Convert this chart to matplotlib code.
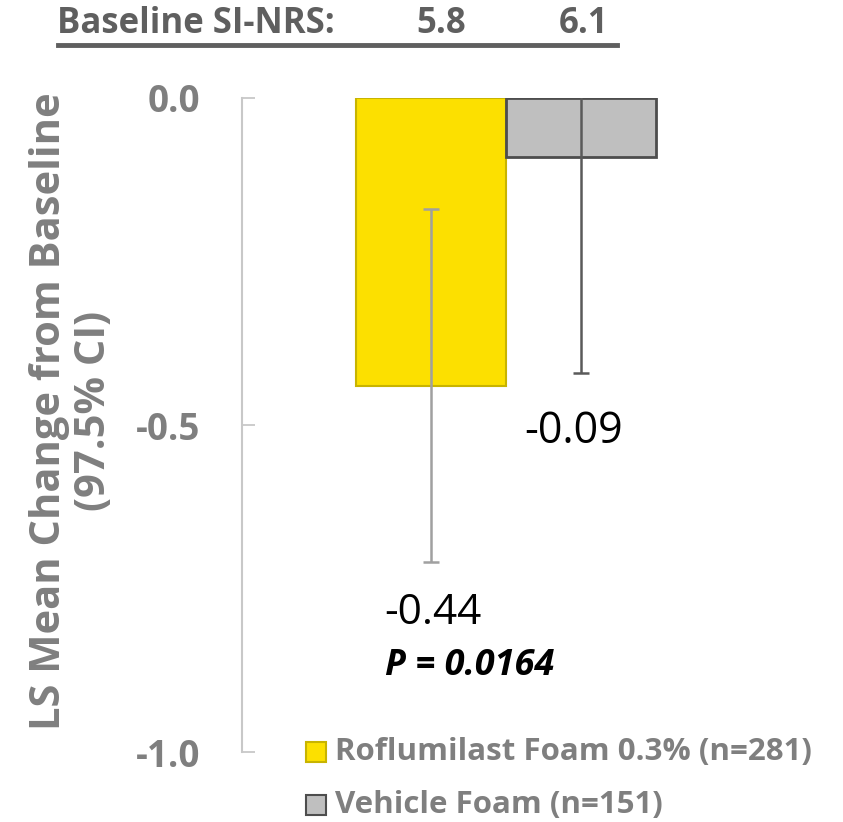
import matplotlib.pyplot as plt
from matplotlib.patches import Rectangle

# LS mean change from baseline, with 97.5% CI
groups = ["Roflumilast Foam 0.3% (n=281)", "Vehicle Foam (n=151)"]
means = [-0.44, -0.09]
ci_low = [-0.71, -0.42]
ci_high = [-0.17, 0.24]
baselines = ["5.8", "6.1"]
value_labels = ["-0.44", "-0.09"]
p_value = "0.0164"

face_colors = ["#fce000", "#bfbfbf"]
edge_colors = ["#c8b400", "#4d4d4d"]
err_colors = ["#a0a0a0", "#5a5a5a"]
GRAY = "#7f7f7f"
DARK = "#5f5f5f"
FONT = "Open Sans"

W, H = 843, 822
fig = plt.figure(figsize=(W / 100, H / 100), dpi=100)
ax = fig.add_axes([242 / W, 1 - 752 / H, (808 - 242) / W, (752 - 98) / H])

xs = [0, 1]
for i in range(2):
    ax.bar(xs[i], means[i], width=1.0, align="edge", color=face_colors[i],
           edgecolor=edge_colors[i], linewidth=1.5 if i == 0 else 2.0, zorder=2)
    lo = means[i] - ci_low[i]
    hi = ci_high[i] - means[i]
    ax.errorbar(xs[i] + 0.5, means[i], yerr=[[lo], [hi]], fmt="none",
                ecolor=err_colors[i], elinewidth=1.8, capsize=6, capthick=1.8, zorder=3)

ax.set_xlim(-0.76, 3.013)
ax.set_ylim(-1.0, 0.0)
ax.set_yticks([0.0, -0.5, -1.0])
ax.set_yticklabels(["0.0", "-0.5", "-1.0"])
ax.tick_params(axis="y", direction="in", length=9, width=1.3, color="#c8c8c8",
               labelsize=26.5, labelcolor=GRAY, pad=30)
for lab in ax.get_yticklabels():
    lab.set_fontfamily(FONT)
    lab.set_fontweight("bold")
ax.set_xticks([])
for s in ["top", "right", "bottom"]:
    ax.spines[s].set_visible(False)
ax.spines["left"].set_color("#c8c8c8")
ax.spines["left"].set_linewidth(1.5)

# value labels and p-value
ax.text(0.51, -0.787, value_labels[0], ha="center", va="center", fontsize=30.5,
        family=FONT, color="black")
ax.text(1.45, -0.51, value_labels[1], ha="center", va="center", fontsize=31,
        family=FONT, color="black")
ax.text(0.76, -0.869, f"P = {p_value}", ha="center", va="center", fontsize=26,
        family=FONT, fontweight="bold", style="italic", color="black")

# y axis title
fig.text(72 / W, 1 - 411 / H, "LS Mean Change from Baseline\n(97.5% CI)",
         rotation=90, ha="center", va="center", fontsize=30, family=FONT,
         fontweight="bold", color=GRAY, linespacing=1.1)

# baseline header, underlined
fig.text(57 / W, 1 - 24 / H, "Baseline SI-NRS:", ha="left", va="center",
         fontsize=25, family=FONT, fontweight="bold", color=DARK)
fig.text(441 / W, 1 - 24 / H, baselines[0], ha="center", va="center",
         fontsize=25, family=FONT, fontweight="bold", color=DARK)
fig.text(584 / W, 1 - 24 / H, baselines[1], ha="center", va="center",
         fontsize=25, family=FONT, fontweight="bold", color=DARK)
fig.add_artist(plt.Line2D([58 / W, 617 / W], [1 - 45.5 / H, 1 - 45.5 / H],
                          color=DARK, linewidth=3.5))

# legend
for i, row_y in enumerate([752, 805]):
    fig.add_artist(Rectangle((306 / W, 1 - (row_y + 10) / H), 20 / W, 20 / H,
                             facecolor=face_colors[i], edgecolor=edge_colors[i],
                             linewidth=1.5, transform=fig.transFigure))
    fig.text(335 / W, 1 - row_y / H, groups[i], ha="left", va="center",
             fontsize=22.5, family=FONT, fontweight="bold", color=GRAY)

fig.savefig("out.png", dpi=100)
